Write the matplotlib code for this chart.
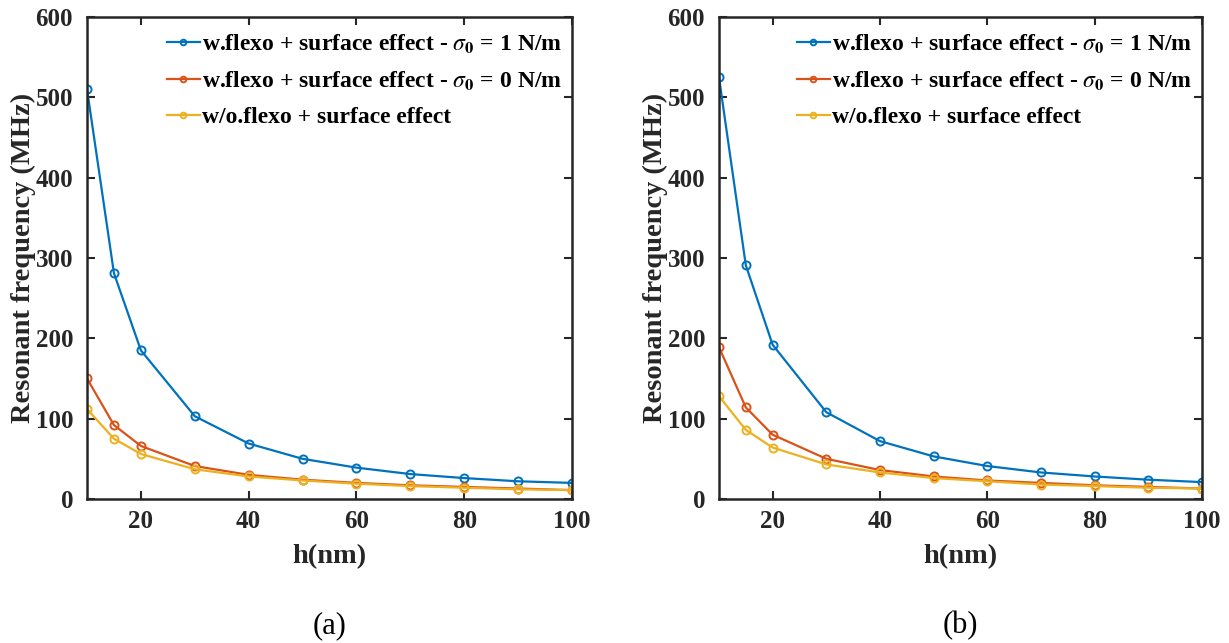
import matplotlib
matplotlib.use("Agg")
import matplotlib.pyplot as plt

plt.rcParams['font.family'] = ['Liberation Serif', 'DejaVu Serif']
plt.rcParams['mathtext.fontset'] = 'stix'

h = [10, 15, 20, 30, 40, 50, 60, 70, 80, 90, 100]

a_blue = [510, 281, 185, 103, 69, 50, 39, 31, 26, 22, 20]
a_orange = [150, 92, 66, 41, 30, 24, 20, 17, 15, 13, 11]
a_yellow = [112, 75, 56, 37, 28, 23, 19, 16, 14, 12, 11]

b_blue = [525, 291, 192, 108, 72, 53, 41, 33, 28, 24, 21]
b_orange = [189, 114, 80, 50, 36, 28, 23, 20, 17, 15, 13]
b_yellow = [128, 86, 64, 43, 33, 26, 22, 18, 16, 14, 13]

labels = [r'w.flexo + surface effect - $\sigma_{\mathbf{0}}$ = 1 N/m',
          r'w.flexo + surface effect - $\sigma_{\mathbf{0}}$ = 0 N/m',
          'w/o.flexo + surface effect']
colors = ['#0072BD', '#D95319', '#EDB120']
xticks = [20, 40, 60, 80, 100]
yticks = [0, 100, 200, 300, 400, 500, 600]
captions = ['(a)', '(b)']

fig = plt.figure(figsize=(12.29, 6.43), dpi=100)
axes_pos = [[0.0708, 0.224, 0.3946, 0.7496], [0.585, 0.224, 0.393, 0.7496]]
data = [(a_blue, a_orange, a_yellow), (b_blue, b_orange, b_yellow)]

for pos, series, cap in zip(axes_pos, data, captions):
    ax = fig.add_axes(pos)
    for ys, c, lab in zip(series, colors, labels):
        ax.plot(h, ys, color=c, lw=1.6, marker='o', ms=5.8, mfc='none', mew=1.4, label=lab)
    ax.set_xlim(10, 100)
    ax.set_ylim(0, 600)
    ax.set_xticks(xticks)
    ax.set_yticks(yticks)
    ax.tick_params(direction='in', top=True, right=True, length=6, width=1.5,
                   labelsize=18, color='#262626')
    ax.tick_params(axis='x', pad=8)
    ax.tick_params(axis='y', pad=10)
    for lbl in ax.get_xticklabels() + ax.get_yticklabels():
        lbl.set_fontweight('bold')
        lbl.set_color('#262626')
    for sp in ax.spines.values():
        sp.set_linewidth(1.8)
        sp.set_color('#262626')
    ax.set_xlabel('h(nm)', fontsize=20.5, fontweight='bold', color='#262626')
    ax.set_ylabel('Resonant frequency (MHz)', fontsize=20.5, fontweight='bold', color='#262626')
    ax.xaxis.set_label_coords(0.5, -0.093)
    ax.yaxis.set_label_coords(-0.106, 0.5)
    leg = ax.legend(loc='upper right', bbox_to_anchor=(1.012, 1.0), frameon=False,
                    prop={'weight': 'bold', 'size': 17},
                    handlelength=1.4, handletextpad=0.1, labelspacing=0.58, borderaxespad=0.35,
                    borderpad=0.3, markerscale=0.7)
    for t in leg.get_texts():
        t.set_color('black')
    ax.text(0.5, -0.262, cap, transform=ax.transAxes, ha='center', va='center', fontsize=22)
fig.savefig('out.png', dpi=100)
